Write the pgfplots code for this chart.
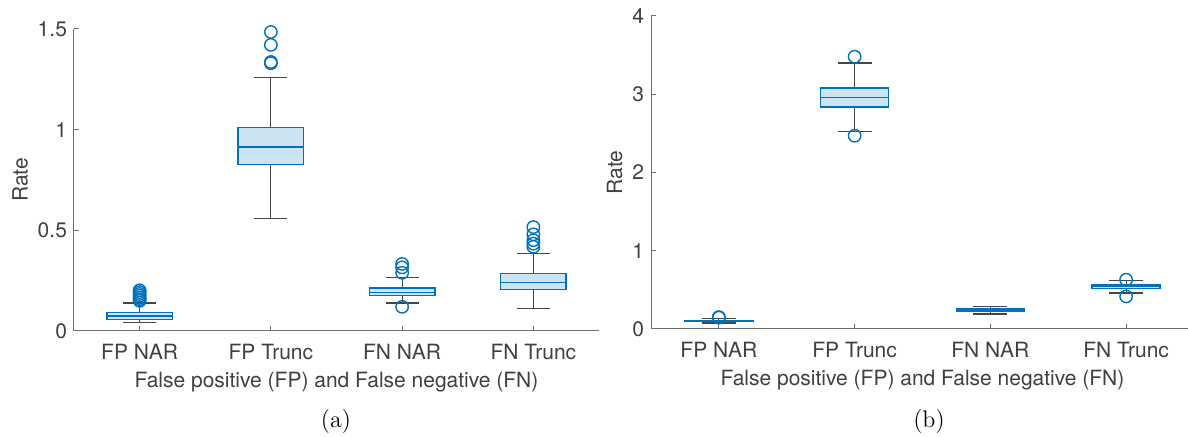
\documentclass[border=0pt]{standalone}
\usepackage{pgfplots}
\pgfplotsset{compat=1.18}
\usepgfplotslibrary{statistics}
\usepackage{fontspec}
\newfontfamily\hel{TeX Gyre Heros}
\definecolor{mblue}{RGB}{0,114,189}
\definecolor{mfill}{RGB}{204,227,242}
\definecolor{txt}{RGB}{64,64,64}
\definecolor{axc}{RGB}{110,110,110}
\definecolor{wc}{RGB}{70,70,70}
\pgfplotsset{
  mybox/.style={
    scale only axis,
    anchor=south west,
    xmin=0.5, xmax=4.5, ymin=0,
    xtick={1,2,3,4},
    xticklabels={FP NAR, FP Trunc, FN NAR, FN Trunc},
    axis x line=bottom, axis y line=left,
    axis line style={-, draw=axc, line width=0.5pt},
    tick align=inside, tick pos=left,
    major tick length=2.5pt,
    tick style={draw=axc, line width=0.5pt},
    ticklabel style={font=\hel\fontsize{10.5}{12}\selectfont, text=txt},
    xticklabel shift=3pt,
    /pgf/number format/assume math mode=true,
    label style={font=\hel\fontsize{10.5}{12}\selectfont, text=txt},
    xlabel={False positive (FP) and False negative (FN)},
    ylabel={Rate},
    xlabel style={yshift=0.5pt},
    ylabel shift=-2pt,
    boxplot/draw direction=y,
    boxplot/box extend=0.5,
    boxplot/whisker extend=0.25,
    boxplot/every box/.style={draw=mblue, fill=mfill, line width=0.7pt},
    boxplot/every median/.style={draw=mblue, line width=0.7pt},
    boxplot/every whisker/.style={draw=wc, line width=0.6pt},
  },
  bx/.style={mark=o, mark size=3.1pt, mark options={draw=mblue, line width=0.7pt, fill=none}},
}
\begin{document}
\begin{tikzpicture}
\useasboundingbox (0,0) rectangle (594pt,218.5pt);
% (a)
\begin{axis}[mybox, at={(37pt,53pt)}, width=262.5pt, height=151pt, ymax=1.5,
  ytick={0,0.5,1,1.5}, yticklabels={0,0.5,1,1.5}]
\addplot[bx, boxplot prepared={median=0.075, lower quartile=0.057, upper quartile=0.092,
  lower whisker=0.041, upper whisker=0.139, draw position=1}]
  table[row sep=\\, y index=0] {0.15\\ 0.158\\ 0.166\\ 0.175\\ 0.184\\ 0.193\\ 0.202\\};
\addplot[bx, boxplot prepared={median=0.913, lower quartile=0.828, upper quartile=1.010,
  lower whisker=0.557, upper whisker=1.259, draw position=2}]
  table[row sep=\\, y index=0] {1.485\\ 1.421\\ 1.336\\ 1.330\\};
\addplot[bx, boxplot prepared={median=0.192, lower quartile=0.175, upper quartile=0.213,
  lower whisker=0.139, upper whisker=0.264, draw position=3}]
  table[row sep=\\, y index=0] {0.333\\ 0.316\\ 0.289\\ 0.12\\};
\addplot[bx, boxplot prepared={median=0.241, lower quartile=0.205, upper quartile=0.287,
  lower whisker=0.113, upper whisker=0.384, draw position=4}]
  table[row sep=\\, y index=0] {0.516\\ 0.48\\ 0.451\\ 0.434\\ 0.418\\};
\end{axis}
% (b)
\begin{axis}[mybox, at={(325.5pt,54pt)}, width=271.5pt, height=156.5pt, ymax=4,
  ytick={0,1,2,3,4}]
\addplot[bx, boxplot prepared={median=0.100, lower quartile=0.092, upper quartile=0.108,
  lower whisker=0.077, upper whisker=0.135, draw position=1}]
  table[row sep=\\, y index=0] {0.145\\ 0.152\\};
\addplot[bx, boxplot prepared={median=2.955, lower quartile=2.839, upper quartile=3.080,
  lower whisker=2.52, upper whisker=3.40, draw position=2}]
  table[row sep=\\, y index=0] {3.48\\ 2.47\\};
\addplot[bx, boxplot prepared={median=0.240, lower quartile=0.226, upper quartile=0.254,
  lower whisker=0.192, upper whisker=0.289, draw position=3}]
  coordinates {};
\addplot[bx, boxplot prepared={median=0.540, lower quartile=0.520, upper quartile=0.560,
  lower whisker=0.460, upper whisker=0.617, draw position=4}]
  table[row sep=\\, y index=0] {0.63\\ 0.416\\};
\end{axis}
\node[text=black, font=\fontsize{12}{14}\selectfont] at (168pt,7.5pt) {(a)};
\node[text=black, font=\fontsize{12}{14}\selectfont] at (464.5pt,7.5pt) {(b)};
\end{tikzpicture}
\end{document}
